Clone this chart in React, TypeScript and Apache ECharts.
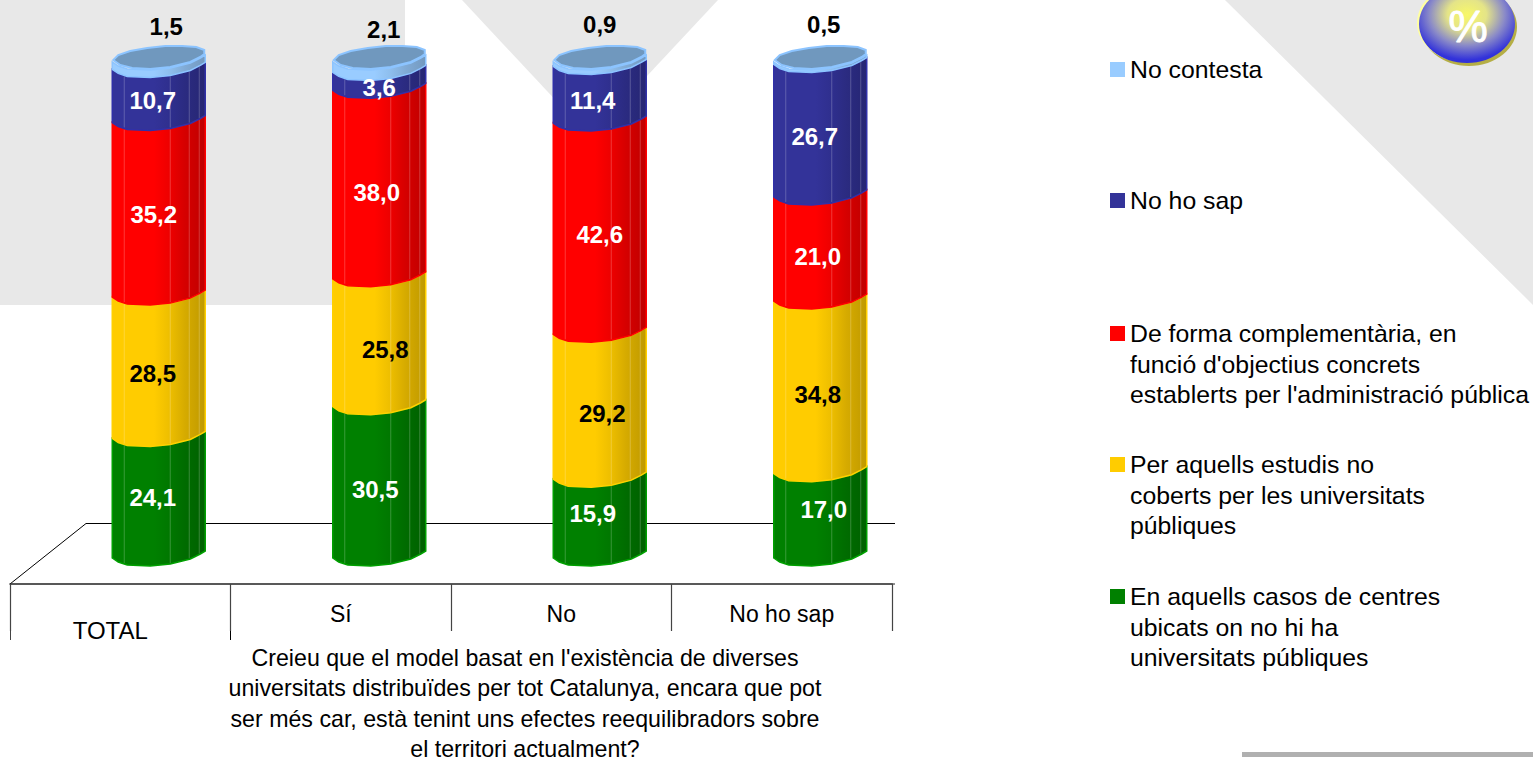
import React, { useEffect, useRef } from "react";
import * as echarts from "echarts";

const categories = ["TOTAL", "Sí", "No", "No ho sap"];
const seriesNames = [
  "En aquells casos de centres ubicats on no hi ha universitats públiques",
  "Per aquells estudis no coberts per les universitats públiques",
  "De forma complementària, en funció d'objectius concrets establerts per l'administració pública",
  "No ho sap",
  "No contesta",
];
const enAquells = [24.1, 30.5, 15.9, 17.0];
const perAquells = [28.5, 25.8, 29.2, 34.8];
const deForma = [35.2, 38.0, 42.6, 21.0];
const noHoSap = [10.7, 3.6, 11.4, 26.7];
const noContesta = [1.5, 2.1, 0.9, 0.5];
const allValues = [enAquells, perAquells, deForma, noHoSap, noContesta];

const legendLines = [
  ["En aquells casos de centres", "ubicats on no hi ha", "universitats públiques"],
  ["Per aquells estudis no", "coberts per les universitats", "públiques"],
  ["De forma complementària, en", "funció d'objectius concrets", "establerts per l'administració pública"],
  ["No ho sap"],
  ["No contesta"],
];
const legendCentres = [596.5, 464.5, 333.5, 200.5, 69.5];
const titleLines = [
  "Creieu que el model basat en l'existència de diverses",
  "universitats distribuïdes per tot Catalunya, encara que pot",
  "ser més car, està tenint uns efectes reequilibradors sobre",
  "el territori actualment?",
];

// appearance
const base = ["#008000", "#FFCC00", "#FF0000", "#333399", "#99CCFF"];
const edge = ["#00A000", "#FFD000", "#FF0000", "#3030A8", "#8CC4FF"];
const labelColor = ["#fff", "#000", "#fff", "#fff", "#000"];
const labelNudge = [
  [[-6, -7], [-4, 1], [-7, -11], [3.5, -12]],
  [[-6, 0], [6, 1], [2.5, 1], [-2.5, 1]],
  [[-5, -1], [-2.5, 2], [0, 0], [-2.5, 2]],
  [[-6, -1], [0, 0], [-7, 0], [-5.5, 0]],
  [[7.5, -45], [4.5, -44], [0, -46], [3.5, -45]],
];
const front = [[0, -8], [6, -4], [15, -1], [38, 0], [58, -2], [78, -7], [88, -12], [93, -15]];
const topFace = [
  [1, -10], [8, -5], [20, -2], [38, -1], [58, -3], [78, -8], [88, -13], [92, -16], [92, -20],
  [84, -23], [70, -24], [53, -24], [35, -22], [18, -19], [6, -15],
];
const stripes = [12, 58, 77, 87];

const frontAt = (dx: number) => {
  for (let i = 1; i < front.length; i++) {
    if (dx <= front[i][0]) {
      const [x0, y0] = front[i - 1];
      const [x1, y1] = front[i];
      return y0 + ((y1 - y0) * (dx - x0)) / (x1 - x0);
    }
  }
  return front[front.length - 1][1];
};

const shade = (hex: string, f: number) => {
  const n = parseInt(hex.slice(1), 16);
  const c = (s: number) => Math.round(((n >> s) & 255) * f);
  return `rgb(${c(16)},${c(8)},${c(0)})`;
};

const makeRender = (si: number) => (params: any, api: any) => {
  const cat = api.value(0);
  const from = api.value(1);
  const val = api.value(2);
  const cx = api.coord([cat, 0])[0];
  const left = cx - 8;
  const y0 = api.coord([cat, from])[1];
  const y1 = api.coord([cat, from + val])[1];
  const ym = api.coord([cat, from + val / 2])[1];
  const pts = [
    ...front.map(([dx, dy]) => [left + dx, y0 + dy]),
    ...[...front].reverse().map(([dx, dy]) => [left + dx, y1 + dy]),
  ];
  const c = base[si];
  const fill = new echarts.graphic.LinearGradient(0, 0, 1, 0, [
    { offset: 0, color: shade(c, 1) },
    { offset: 0.45, color: shade(c, 1) },
    { offset: 0.62, color: shade(c, 0.93) },
    { offset: 0.78, color: shade(c, 0.84) },
    { offset: 1, color: shade(c, 0.75) },
  ]);
  const children: any[] = [
    { type: "polygon", shape: { points: pts }, style: { fill, stroke: edge[si], lineWidth: 1.5 } },
  ];
  if (si < 4) {
    stripes.forEach((dx) => {
      children.push({
        type: "line",
        shape: { x1: left + dx, y1: y1 + frontAt(dx) + 1, x2: left + dx, y2: y0 + frontAt(dx) - 1 },
        style: { stroke: "rgba(255,255,255,0.22)", lineWidth: 1 },
      });
    });
  } else {
    children.push({
      type: "polygon",
      shape: { points: topFace.map(([dx, dy]) => [left + dx, y1 + dy]) },
      style: { fill: "#7098BE", stroke: "#8CC4FF", lineWidth: 2 },
    });
  }
  const [nx, ny] = labelNudge[si][cat];
  children.push({
    type: "text",
    z2: 100,
    style: {
      x: left + 46.5 + nx,
      y: ym - 2 + ny,
      text: val.toFixed(1).replace(".", ","),
      fill: labelColor[si],
      font: 'bold 24px "Liberation Sans"',
      align: "center",
      verticalAlign: "middle",
    },
  });
  return { type: "group", children };
};

export default function App() {
  const ref = useRef<HTMLDivElement>(null);
  useEffect(() => {
    const chart = echarts.init(ref.current!, undefined, { renderer: "svg" });
    const totals = categories.map(() => 0);
    const series = allValues.map((vals, si) => {
      const data = vals.map((v, i) => {
        const row = [i, totals[i], v];
        totals[i] += v;
        return row;
      });
      return {
        type: "custom",
        name: seriesNames[si],
        coordinateSystem: "cartesian2d",
        renderItem: makeRender(si),
        encode: { x: 0, y: 1 },
        data,
        clip: false,
        silent: true,
        itemStyle: { color: base[si] },
      };
    });
    const lineH = 30.5;
    const legend = seriesNames.map((name, si) => {
      const n = legendLines[si].length;
      const h = (2 * n - 1) * lineH;
      return {
        data: [name],
        left: 1110,
        top: legendCentres[si] - h / 2,
        padding: 0,
        itemWidth: 15,
        itemHeight: 15,
        icon: "rect",
        selectedMode: false,
        formatter: () => "\n".repeat(n - 1) + legendLines[si].join("\n"),
        textStyle: { fontFamily: "Liberation Sans", fontSize: 24.8, color: "#000", lineHeight: lineH },
      };
    });
    const gray = "#E8E8E8";
    const line = (x1: number, y1: number, x2: number, y2: number, stroke = "#000") => ({
      type: "line",
      shape: { x1, y1, x2, y2 },
      style: { stroke, lineWidth: 1 },
    });
    chart.setOption({
      animation: false,
      backgroundColor: "#fff",
      title: {
        text: titleLines.join("\n"),
        left: 525,
        top: 642.25,
        padding: 0,
        textAlign: "center",
        textStyle: { fontFamily: "Liberation Sans", fontSize: 23.2, fontWeight: "normal", color: "#000", lineHeight: 30.5 },
      },
      grid: { left: 10, width: 882, top: 70, height: 496 },
      xAxis: {
        type: "category",
        data: categories,
        offset: 18,
        axisLine: { onZero: false, lineStyle: { color: "#222", width: 1.5 } },
        axisTick: { show: true, length: 47, alignWithLabel: false, lineStyle: { color: "#444", width: 1.2 } },
        axisLabel: {
          interval: 0,
          margin: 18,
          color: "#000",
          fontFamily: "Liberation Sans",
          fontSize: 23,
          formatter: (v: string) => (v === categories[0] ? `{first|${v}}` : v),
          rich: {
            first: { fontFamily: "Liberation Sans", fontSize: 24, color: "#000", padding: [16, 20, 0, 0] },
          },
        },
      },
      yAxis: { type: "value", min: 0, max: 100, show: false },
      legend,
      graphic: [
        { type: "rect", shape: { x: 0, y: 0, width: 405, height: 305 }, style: { fill: gray } },
        { type: "polygon", shape: { points: [[462, 0], [718, 0], [590, 137]] }, style: { fill: gray } },
        { type: "polygon", shape: { points: [[1225, 0], [1533, 0], [1533, 305]] }, style: { fill: gray } },
        { type: "rect", shape: { x: 1242, y: 752, width: 291, height: 5 }, style: { fill: "#B0B0B0" } },
        line(10, 584, 86, 523.5),
        line(86, 523.5, 895, 523.5),
        line(892, 584, 895, 584, "#222"),
        line(10.5, 584, 10.5, 640, "#444"),
        line(230.5, 584, 230.5, 640, "#000"),
        { type: "ellipse", shape: { cx: 1469, cy: 27, rx: 48, ry: 39 }, style: { fill: "#B5AE45" } },
        { type: "ellipse", shape: { cx: 1465, cy: 23, rx: 48, ry: 39 }, style: { fill: "#FFFFA0" } },
        {
          type: "ellipse",
          shape: { cx: 1467, cy: 24, rx: 48, ry: 39 },
          style: {
            fill: new echarts.graphic.RadialGradient(0.5, 0.38, 0.58, [
              { offset: 0, color: "#F8F868" },
              { offset: 0.35, color: "#E4E488" },
              { offset: 0.68, color: "#8A8AC8" },
              { offset: 1, color: "#3232DA" },
            ]),
          },
        },
        {
          type: "text",
          style: {
            x: 1468,
            y: 26,
            text: "%",
            fill: "#fff",
            stroke: "#fff",
            lineWidth: 1,
            font: '44px "Liberation Sans"',
            align: "center",
            verticalAlign: "middle",
            shadowColor: "#000",
            shadowOffsetX: 2,
            shadowOffsetY: 2,
            shadowBlur: 0,
          },
        },
      ],
      series,
    });
    return () => chart.dispose();
  }, []);
  return <div ref={ref} style={{ position: "fixed", left: 0, top: 0, width: 1533, height: 757 }} />;
}
